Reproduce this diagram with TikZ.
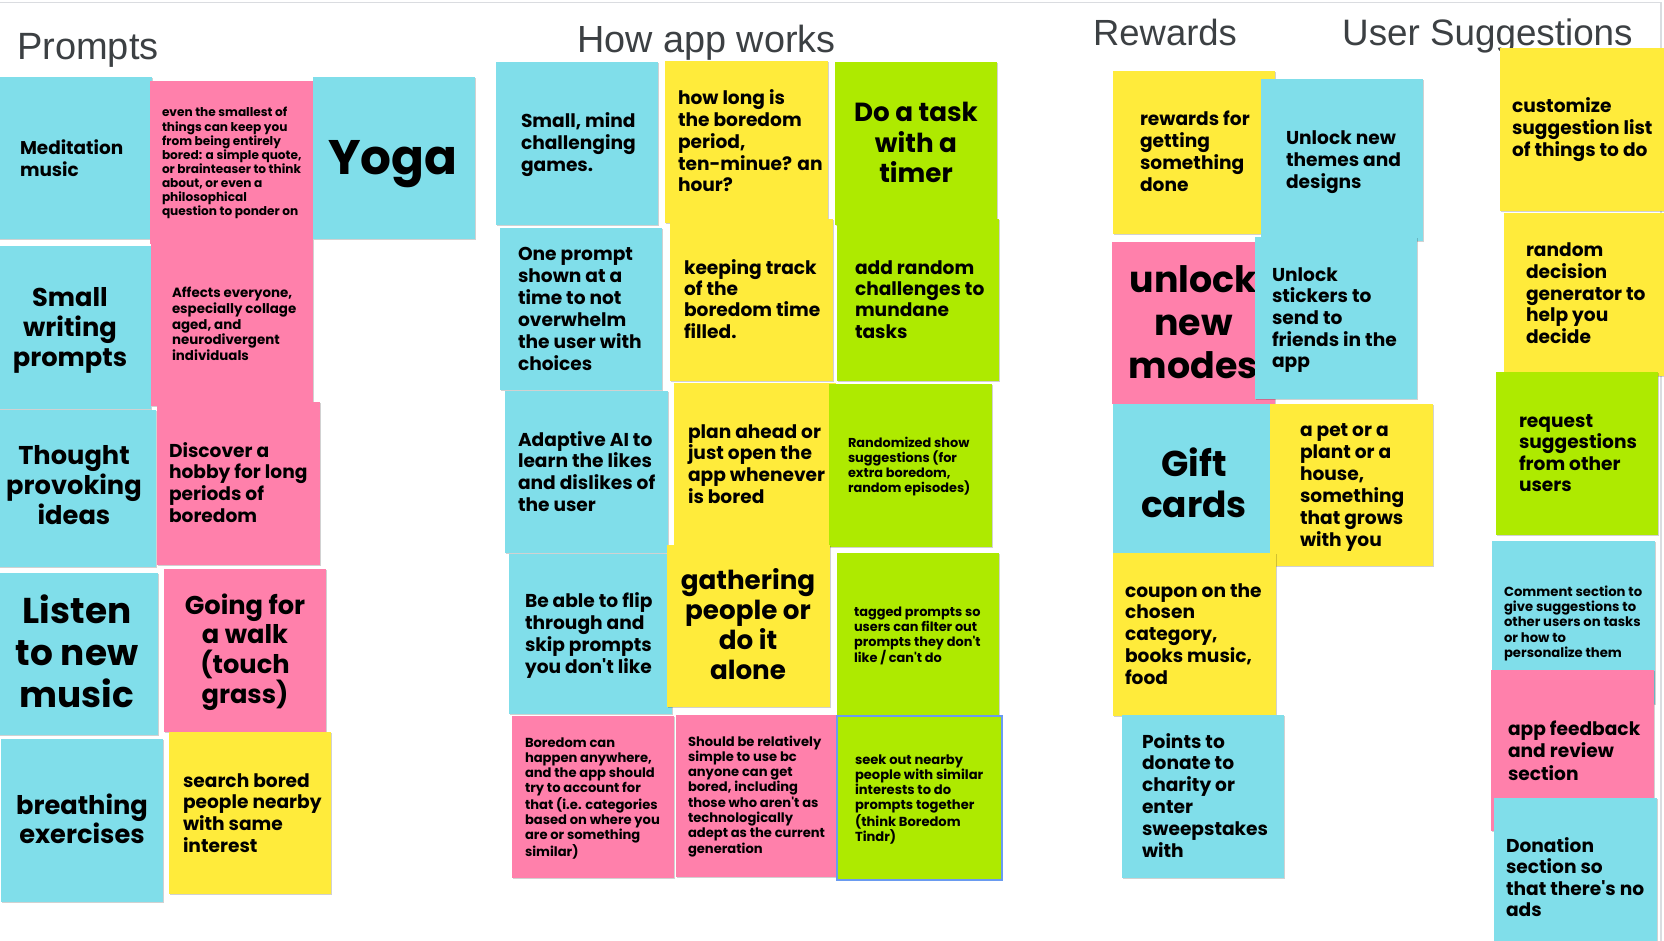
\documentclass[tikz,border=0pt]{standalone}
\usepackage{fontspec}
\setmainfont{Liberation Sans}
\newfontfamily\titlefont{Liberation Sans}
\newfontfamily\notefont{Poppins}
\usetikzlibrary{shadows}

\definecolor{ncyan}{HTML}{80DEEA}
\definecolor{npink}{HTML}{FF80AB}
\definecolor{nyellow}{HTML}{FFEB3B}
\definecolor{ngreen}{HTML}{AEEA00}
\definecolor{titlegray}{HTML}{3C4043}
\definecolor{framegray}{HTML}{DADCE0}
\definecolor{selblue}{HTML}{6A9BF0}

% left-aligned and centred line stacks; the box baseline is the first line
\newcommand\ltext[3]{\vtop{\notefont\bfseries\fontsize{\fpeval{#1*0.97}}{#2}\selectfont
  \let\\\cr\halign{##\hfil\cr#3\crcr}}}
\newcommand\ctext[3]{\vtop{\notefont\bfseries\fontsize{\fpeval{#1*0.97}}{#2}\selectfont
  \let\\\cr\halign{\hfil##\hfil\cr#3\crcr}}}

% sticky note: name, colour, x1, y1, x2, y2
\newcommand\sticky[6]{\node[note, fill=#2,
  minimum width={(#5-(#3))*1pt}, minimum height={(#6-(#4))*1pt}] (#1) at (#3,#4) {};}

\tikzset{
  note/.style={rectangle, draw=none, inner sep=0pt, outer sep=0pt, anchor=north west,
    drop shadow={shadow xshift=0.6pt, shadow yshift=-1.2pt, opacity=0.18, fill=black}},
  txt/.style={inner sep=0pt, outer sep=0pt, text=black},
  lt/.style={txt, anchor=base west},
  ct/.style={txt, anchor=base},
  title/.style={inner sep=0pt, anchor=base west, text=titlegray},
}

\begin{document}
\begin{tikzpicture}[x=1pt, y=-1pt]
\useasboundingbox[fill=white] (0,0) rectangle (1664,941);

% board frame
\draw[framegray, line width=1.5pt] (0,2.5) -- (1661,2.5) -- (1661,941);

% column headings
\node[title, font=\titlefont\fontsize{38}{40}\selectfont] (hprompts) at (17,60) {Prompts};
\node[title, font=\titlefont\fontsize{37.8}{40}\selectfont] (happ) at (577,53) {How app works};
\node[title, font=\titlefont\fontsize{36.4}{40}\selectfont] (hrewards) at (1093,46) {Rewards};
\node[title, font=\titlefont\fontsize{36.8}{40}\selectfont] (husers) at (1342,46) {User Suggestions};

% ---------------- Prompts ----------------
\sticky{p1}{ncyan}{-2}{77}{152}{239}
\node[lt] (p1t) at (20,155) {\ltext{19}{21.5}{Meditation\\music}};
\sticky{p2}{npink}{150}{81}{313}{244}
\node[lt] (p2t) at (162,117) {\ltext{12.5}{14.1}{even the smallest of\\things can keep you\\from being entirely\\bored: a simple quote,\\or brainteaser to think\\about, or even a\\philosophical\\question to ponder on}};
\sticky{p3}{ncyan}{313}{77}{475}{239}
\node[ct] (p3t) at (393,175) {\ctext{50}{55}{Yoga}};
\sticky{p4}{ncyan}{-2}{246}{151}{409}
\node[ct] (p4t) at (70,306) {\ctext{26.5}{30}{Small\\writing\\prompts}};
\sticky{p5}{npink}{151}{244}{313}{406}
\node[lt] (p5t) at (172,298) {\ltext{13.8}{15.6}{Affects everyone,\\especially collage\\aged, and\\neurodivergent\\individuals}};
\sticky{p7}{npink}{157}{402}{320}{565}
\node[lt] (p7t) at (169,457) {\ltext{19.2}{21.7}{Discover a\\hobby for long\\periods of\\boredom}};
\sticky{p6}{ncyan}{-2}{410}{156}{567}
\node[ct] (p6t) at (74,464) {\ctext{26.5}{30}{Thought\\provoking\\ideas}};
\sticky{p8}{ncyan}{-2}{573}{158}{735}
\node[ct] (p8t) at (77,623) {\ctext{37}{42}{Listen\\to new\\music}};
\sticky{p9}{npink}{164}{569}{326}{732}
\node[ct] (p9t) at (245,614) {\ctext{26.5}{29.7}{Going for\\a walk\\(touch\\grass)}};
\sticky{p10}{ncyan}{1}{739}{163}{902}
\node[ct] (p10t) at (82,814) {\ctext{26.5}{29.5}{breathing\\exercises}};
\sticky{p11}{nyellow}{169}{732}{331}{894}
\node[lt] (p11t) at (183,787) {\ltext{19.2}{21.7}{search bored\\people nearby\\with same\\interest}};

% ---------------- How app works ----------------
\sticky{a1}{ncyan}{496}{62}{658}{225}
\node[lt] (a1t) at (521,128) {\ltext{19.2}{21.8}{Small, mind\\challenging\\games.}};
\sticky{a2}{nyellow}{665}{61}{828}{223}
\node[lt] (a2t) at (678,105) {\ltext{19.2}{21.7}{how long is\\the boredom\\period,\\ten-minue? an\\hour?}};
\sticky{a3}{ngreen}{835}{62}{997}{225}
\node[ct] (a3t) at (916,122) {\ctext{27}{30.5}{Do a task\\with a\\timer}};
\sticky{a4}{ncyan}{500}{228}{662}{390}
\node[lt] (a4t) at (518,261) {\ltext{19.2}{21.8}{One prompt\\shown at a\\time to not\\overwhelm\\the user with\\choices}};
\sticky{a5}{nyellow}{670}{219}{833}{381}
\node[lt] (a5t) at (684,274) {\ltext{19.2}{21.5}{keeping track\\of the\\boredom time\\filled.}};
\sticky{a6}{ngreen}{837}{219}{999}{381}
\node[lt] (a6t) at (855,274) {\ltext{19.2}{21.5}{add random\\challenges to\\mundane\\tasks}};
\sticky{a7}{ncyan}{505}{391}{668}{553}
\node[lt] (a7t) at (518,446) {\ltext{19.2}{21.7}{Adaptive AI to\\learn the likes\\and dislikes of\\the user}};
\sticky{a8}{nyellow}{674}{383}{836}{545}
\node[lt] (a8t) at (688,438) {\ltext{19.2}{21.8}{plan ahead or\\just open the\\app whenever\\is bored}};
\sticky{a9}{ngreen}{829}{384}{992}{547}
\node[lt] (a9t) at (848,447) {\ltext{13.3}{15}{Randomized show\\suggestions (for\\extra boredom,\\random episodes)}};
\sticky{a10}{ncyan}{509}{554}{672}{714}
\node[lt] (a10t) at (525,607) {\ltext{19.2}{22}{Be able to flip\\through and\\skip prompts\\you don't like}};
\sticky{a11}{nyellow}{667}{545}{830}{707}
\node[ct] (a11t) at (748,589) {\ctext{27}{30.3}{gathering\\people or\\do it\\alone}};
\sticky{a12}{ngreen}{837}{553}{999}{716}
\node[lt] (a12t) at (854,616) {\ltext{13.3}{15}{tagged prompts so\\users can filter out\\prompts they don't\\like / can't do}};
\sticky{a13}{npink}{512}{716}{674}{878}
\node[lt] (a13t) at (525,747) {\ltext{13.5}{15.3}{Boredom can\\happen anywhere,\\and the app should\\try to account for\\that (i.e. categories\\based on where you\\are or something\\similar)}};
\sticky{a14}{npink}{676}{715}{838}{877}
\node[lt] (a14t) at (688,746) {\ltext{13.5}{15.3}{Should be relatively\\simple to use bc\\anyone can get\\bored, including\\those who aren't as\\technologically\\adept as the current\\generation}};
\sticky{a15}{ngreen}{837}{716}{1002}{880}
\draw[selblue, line width=1.7pt] (a15.north west) rectangle (a15.south east);
\node[lt] (a15t) at (855,764) {\ltext{13.5}{15.3}{seek out nearby\\people with similar\\interests to do\\prompts together\\(think Boredom\\Tindr)}};

% ---------------- Rewards ----------------
\sticky{r1}{nyellow}{1113}{71}{1275}{234}
\node[lt] (r1t) at (1140,126) {\ltext{19.2}{21.7}{rewards for\\getting\\something\\done}};
\sticky{r2}{ncyan}{1261}{79}{1423}{241}
\node[lt] (r2t) at (1286,145) {\ltext{19.2}{21.8}{Unlock new\\themes and\\designs}};
\sticky{r3}{npink}{1112}{242}{1275}{404}
\node[ct] (r3t) at (1193.5,292) {\ctext{37.5}{43}{unlock\\new\\modes}};
\sticky{r4}{ncyan}{1255}{237}{1417}{399}
\node[lt] (r4t) at (1272,281) {\ltext{19.2}{21.7}{Unlock\\stickers to\\send to\\friends in the\\app}};
\sticky{r5}{ncyan}{1113}{404}{1275}{553}
\node[ct] (r5t) at (1194,476) {\ctext{37}{41}{Gift\\cards}};
\sticky{r6}{nyellow}{1270}{404}{1433}{566}
\node[lt] (r6t) at (1300,436) {\ltext{19.2}{22}{a pet or a\\plant or a\\house,\\something\\that grows\\with you}};
\sticky{r7}{nyellow}{1113}{553}{1276}{716}
\node[lt] (r7t) at (1125,597) {\ltext{19.2}{21.8}{coupon on the\\chosen\\category,\\books music,\\food}};
\sticky{r8}{ncyan}{1122}{715}{1284}{878}
\node[lt] (r8t) at (1142,748) {\ltext{19.2}{21.8}{Points to\\donate to\\charity or\\enter\\sweepstakes\\with}};

% ---------------- User Suggestions ----------------
\sticky{u1}{nyellow}{1500}{48}{1664}{211}
\node[lt] (u1t) at (1512,113) {\ltext{19.2}{21.7}{customize\\suggestion list\\of things to do}};
\sticky{u2}{nyellow}{1504}{213}{1666}{376}
\node[lt] (u2t) at (1526,257) {\ltext{19.2}{21.6}{random\\decision\\generator to\\help you\\decide}};
\sticky{u3}{ngreen}{1496}{372}{1658}{535}
\node[lt] (u3t) at (1519,427) {\ltext{19.2}{21.5}{request\\suggestions\\from other\\users}};
\sticky{u4}{ncyan}{1492}{541}{1655}{704}
\node[lt] (u4t) at (1504,596) {\ltext{13.6}{15.4}{Comment section to\\give suggestions to\\other users on tasks\\or how to\\personalize them}};
\sticky{u5}{npink}{1491}{670}{1654}{831}
\node[lt] (u5t) at (1508,735) {\ltext{19.2}{22.5}{app feedback\\and review\\section}};
\sticky{u6}{ncyan}{1494}{798}{1657}{961}
\node[lt] (u6t) at (1506,852) {\ltext{19.2}{21.5}{Donation\\section so\\that there's no\\ads}};
\end{tikzpicture}
\end{document}
